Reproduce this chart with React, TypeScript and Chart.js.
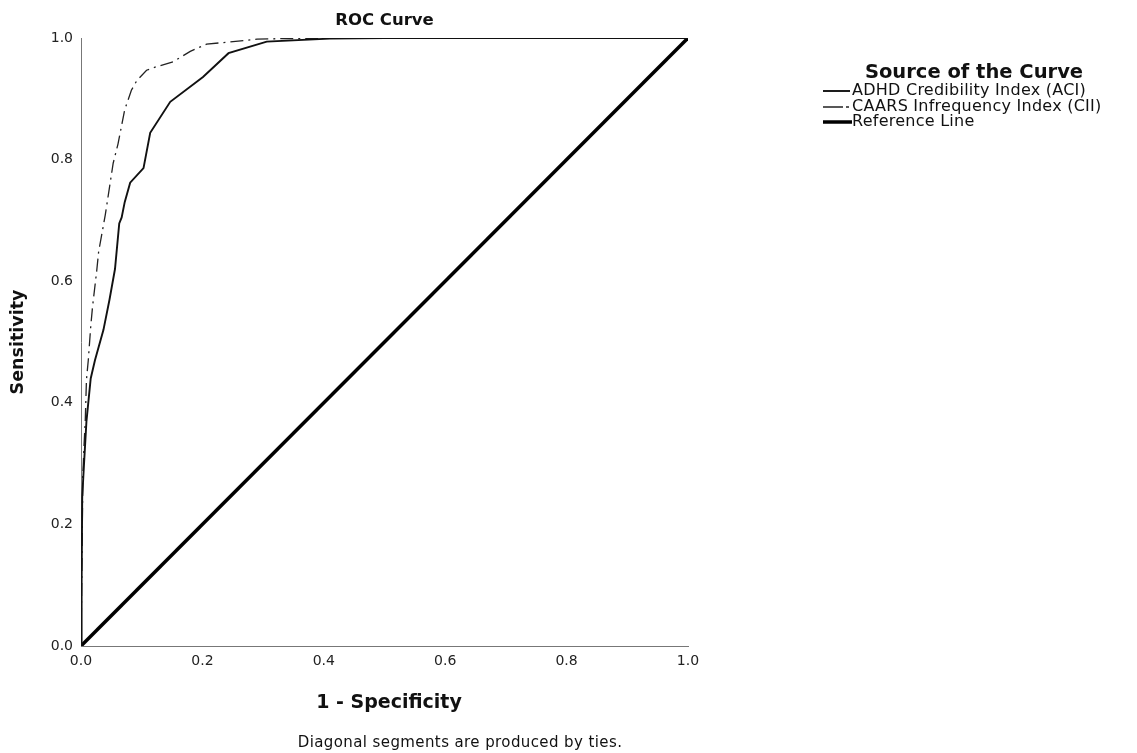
import React, { useEffect, useRef } from "react";
import { Chart, registerables } from "chart.js";

Chart.register(...registerables);

const aciFpr = [0, 0.001, 0.002, 0.005, 0.009, 0.016, 0.023, 0.037, 0.047, 0.056, 0.063, 0.067, 0.072, 0.081, 0.103, 0.114, 0.147, 0.201, 0.243, 0.306, 0.41, 0.5, 1];
const aciTpr = [0, 0.1, 0.245, 0.3, 0.37, 0.44, 0.47, 0.52, 0.57, 0.62, 0.695, 0.705, 0.73, 0.762, 0.786, 0.844, 0.895, 0.936, 0.975, 0.994, 0.999, 1, 1];

const ciiFpr = [0, 0.002, 0.003, 0.005, 0.007, 0.009, 0.012, 0.016, 0.019, 0.026, 0.029, 0.04, 0.053, 0.061, 0.072, 0.083, 0.092, 0.108, 0.125, 0.152, 0.18, 0.207, 0.24, 0.29, 0.33, 0.5, 1];
const ciiTpr = [0, 0.18, 0.28, 0.33, 0.37, 0.438, 0.47, 0.525, 0.558, 0.618, 0.648, 0.709, 0.794, 0.826, 0.882, 0.914, 0.93, 0.947, 0.953, 0.961, 0.978, 0.99, 0.993, 0.998, 0.999, 1, 1];

const refFpr = [0, 1];
const refTpr = [0, 1];

const seriesLabels = ["ADHD Credibility Index (ACI)", "CAARS Infrequency Index (CII)", "Reference Line"];
const xTicks = [0, 0.2, 0.4, 0.6, 0.8, 1.0];

const chartTitle = "ROC Curve";
const xTitle = "1 - Specificity";
const yTitle = "Sensitivity";
const legendTitle = "Source of the Curve";
const footnote = "Diagonal segments are produced by ties.";

const FONT = "'DejaVu Sans', sans-serif";

const zip = (xs: number[], ys: number[]) => xs.map((x, i) => ({ x, y: ys[i] }));

const textPlugin = {
  id: "extraText",
  afterDraw(chart: any) {
    const ctx = chart.ctx as any;
    const area = chart.chartArea;
    const cx = (area.left + area.right) / 2;
    const cy = (area.top + area.bottom) / 2;
    ctx.save();
    ctx.fillStyle = "#111";
    ctx.textAlign = "center";
    ctx.textBaseline = "middle";
    ctx.font = `bold 16.5px ${FONT}`;
    ctx.fillText(chartTitle, cx, 21);
    ctx.font = `bold 19px ${FONT}`;
    ctx.fillText(xTitle, 389, 703);
    ctx.font = `15px ${FONT}`;
    ctx.letterSpacing = "0.4px";
    ctx.fillText(footnote, 460, 743);
    ctx.letterSpacing = "0px";
    ctx.save();
    ctx.translate(18, cy);
    ctx.rotate(-Math.PI / 2);
    ctx.font = `bold 17.5px ${FONT}`;
    ctx.fillText(yTitle, 0, 0);
    ctx.restore();

    // legend
    ctx.font = `bold 19.5px ${FONT}`;
    ctx.fillText(legendTitle, 974, 73);
    ctx.textAlign = "left";
    ctx.font = `16px ${FONT}`;
    ctx.letterSpacing = "0.25px";
    const rows = [91, 107, 122];
    chart.data.datasets.forEach((ds: any, i: number) => {
      const y = rows[i];
      ctx.save();
      ctx.strokeStyle = ds.borderColor;
      ctx.lineWidth = ds.borderWidth;
      ctx.setLineDash(i === 1 ? [20, 3, 3, 3] : []);
      ctx.beginPath();
      ctx.moveTo(823, y);
      ctx.lineTo(i === 2 ? 852 : 850, y);
      ctx.stroke();
      ctx.restore();
      ctx.fillText(ds.label, 852, y);
    });
    ctx.restore();
  },
};

export default function App() {
  const ref = useRef<HTMLCanvasElement>(null);
  useEffect(() => {
    document.body.style.margin = "0";
    const chart = new Chart(ref.current as HTMLCanvasElement, {
      type: "scatter",
      data: {
        datasets: [
          {
            label: seriesLabels[0],
            data: zip(aciFpr, aciTpr),
            showLine: true,
            borderColor: "#111",
            borderWidth: 1.9,
            pointRadius: 0,
            tension: 0,
          },
          {
            label: seriesLabels[1],
            data: zip(ciiFpr, ciiTpr),
            showLine: true,
            borderColor: "#222",
            borderWidth: 1.3,
            borderDash: [13, 5, 2, 5],
            pointRadius: 0,
            tension: 0,
          },
          {
            label: seriesLabels[2],
            data: zip(refFpr, refTpr),
            showLine: true,
            borderColor: "#000",
            borderWidth: 3.5,
            pointRadius: 0,
          },
        ],
      },
      options: {
        responsive: false,
        animation: false,
        layout: { padding: { top: 38, right: 449, left: 0, bottom: 0 } },
        plugins: { legend: { display: false }, tooltip: { enabled: false }, title: { display: false } },
        scales: {
          x: {
            type: "linear",
            min: 0,
            max: 1,
            afterFit: (s: any) => { s.height = 107; },
            afterBuildTicks: (s: any) => { s.ticks = xTicks.map((v) => ({ value: v })); },
            grid: { display: false, drawTicks: false },
            border: { display: true, color: "#777", width: 1 },
            ticks: {
              padding: 7,
              color: "#222",
              font: { family: FONT, size: 14 },
              callback: (v: any) => Number(v).toFixed(1),
              maxRotation: 0,
            },
          },
          y: {
            type: "linear",
            min: 0,
            max: 1,
            afterFit: (s: any) => { s.width = 81; },
            afterBuildTicks: (s: any) => { s.ticks = xTicks.map((v) => ({ value: v })); },
            grid: { display: false, drawTicks: false },
            border: { display: true, color: "#777", width: 1 },
            ticks: {
              padding: 8,
              color: "#222",
              font: { family: FONT, size: 14 },
              callback: (v: any) => Number(v).toFixed(1),
            },
          },
        },
      },
      plugins: [textPlugin],
    } as any);
    return () => chart.destroy();
  }, []);
  return (
    <div style={{ position: "absolute", left: 0, top: 0, width: 1137, height: 753, background: "#fff" }}>
      <canvas ref={ref} width={1137} height={753} />
    </div>
  );
}
